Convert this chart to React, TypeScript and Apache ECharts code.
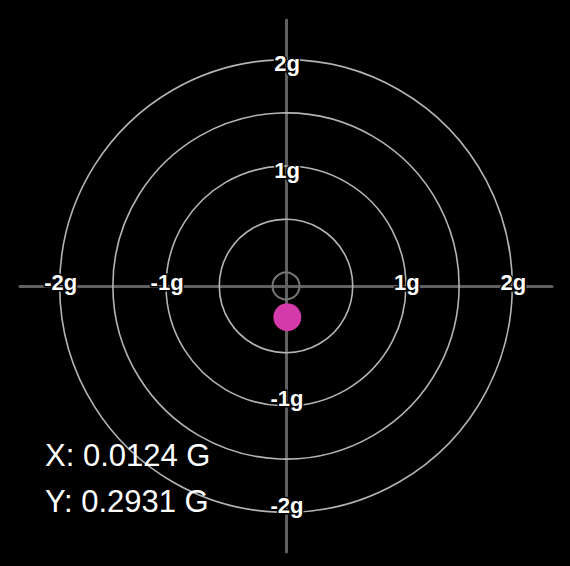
import React, { useEffect, useRef } from "react";
import * as echarts from "echarts";

// ---- data ----
const ringValues: number[] = [0, 0.5, 1, 1.5, 2]; // g rings (0 = centre marker)
const horizontalLabels: number[] = [-2, -1, 1, 2];
const verticalLabels: number[] = [2, 1, -1, -2];
const pointX = 0.0124; // G
const pointY = 0.2931; // G (positive plotted downward)

// ---- styling constants ----
const AXIS_RANGE = 2.5;
const RING_OFFSET = 0.127; // radial offset of rings (in g units)
const RING_COLOR = "#b4b4b4";
const AXIS_COLOR = "#606060";
const DOT_COLOR = "#d53aaa";

export default function App() {
  const ref = useRef<HTMLDivElement>(null);

  useEffect(() => {
    if (!ref.current) return;
    const chart = echarts.init(ref.current, undefined, { renderer: "svg" });

    const fmt = (v: number) => `${v}g`;
    const labelStyle = (text: string) => ({
      text,
      fill: "#ffffff",
      fontSize: 22,
      fontWeight: "bold",
      fontFamily: "Liberation Sans, Arial, sans-serif",
      align: "center",
      verticalAlign: "middle",
      stroke: "#000000",
      lineWidth: 3,
    });

    const option: any = {
      animation: false,
      backgroundColor: "#000000",
      grid: { left: 20, top: 20, width: 532, height: 532, containLabel: false },
      xAxis: {
        type: "value",
        min: -AXIS_RANGE,
        max: AXIS_RANGE,
        axisLine: { show: true, onZero: true, lineStyle: { color: AXIS_COLOR, width: 3 } },
        axisTick: { show: false },
        axisLabel: { show: false },
        splitLine: { show: false },
      },
      yAxis: {
        type: "value",
        min: -AXIS_RANGE,
        max: AXIS_RANGE,
        axisLine: { show: true, onZero: true, lineStyle: { color: AXIS_COLOR, width: 3 } },
        axisTick: { show: false },
        axisLabel: { show: false },
        splitLine: { show: false },
      },
      series: [
        {
          type: "custom",
          name: "rings",
          z: 3,
          silent: true,
          data: ringValues.map((g) => [g]),
          renderItem: (params: any, api: any) => {
            const g = api.value(0);
            const c = api.coord([0, 0]);
            const s = api.size([g + RING_OFFSET, g + RING_OFFSET]);
            return {
              type: "circle",
              shape: { cx: c[0], cy: c[1], r: s[0] },
              style: {
                fill: "none",
                stroke: g === 0 ? "#777777" : RING_COLOR,
                lineWidth: g === 0 ? 2 : 1.6,
              },
            };
          },
        },
        {
          type: "custom",
          name: "hlabels",
          z: 5,
          silent: true,
          data: horizontalLabels.map((g) => [g]),
          renderItem: (params: any, api: any) => {
            const g = api.value(0);
            const pos = api.coord([Math.sign(g) * (Math.abs(g) + RING_OFFSET), 0]);
            return {
              type: "text",
              x: pos[0] + 1,
              y: pos[1] - 4,
              style: labelStyle(fmt(g)),
            };
          },
        },
        {
          type: "custom",
          name: "vlabels",
          z: 5,
          silent: true,
          data: verticalLabels.map((g) => [g]),
          renderItem: (params: any, api: any) => {
            const g = api.value(0);
            const pos = api.coord([0, Math.sign(g) * (Math.abs(g) + RING_OFFSET)]);
            return {
              type: "text",
              x: pos[0] + 1,
              y: pos[1] + (g > 0 ? 4 : -7),
              style: labelStyle(fmt(g)),
            };
          },
        },
        {
          type: "scatter",
          name: "accel",
          z: 6,
          symbol: "circle",
          symbolSize: 28,
          itemStyle: { color: DOT_COLOR, opacity: 1 },
          data: [[pointX, -pointY]],
        },
      ],
      graphic: [
        {
          type: "text",
          left: 45,
          top: 440,
          style: {
            text: `X: ${pointX.toFixed(4)} G`,
            fill: "#ffffff",
            fontSize: 31,
            fontFamily: "Liberation Sans, Arial, sans-serif",
          },
          z: 10,
        },
        {
          type: "text",
          left: 45,
          top: 486,
          style: {
            text: `Y: ${pointY.toFixed(4)} G`,
            fill: "#ffffff",
            fontSize: 31,
            fontFamily: "Liberation Sans, Arial, sans-serif",
          },
          z: 10,
        },
      ],
    };

    chart.setOption(option);
    return () => chart.dispose();
  }, []);

  return (
    <div
      ref={ref}
      style={{ position: "fixed", left: 0, top: 0, width: 570, height: 566, background: "#000" }}
    />
  );
}
